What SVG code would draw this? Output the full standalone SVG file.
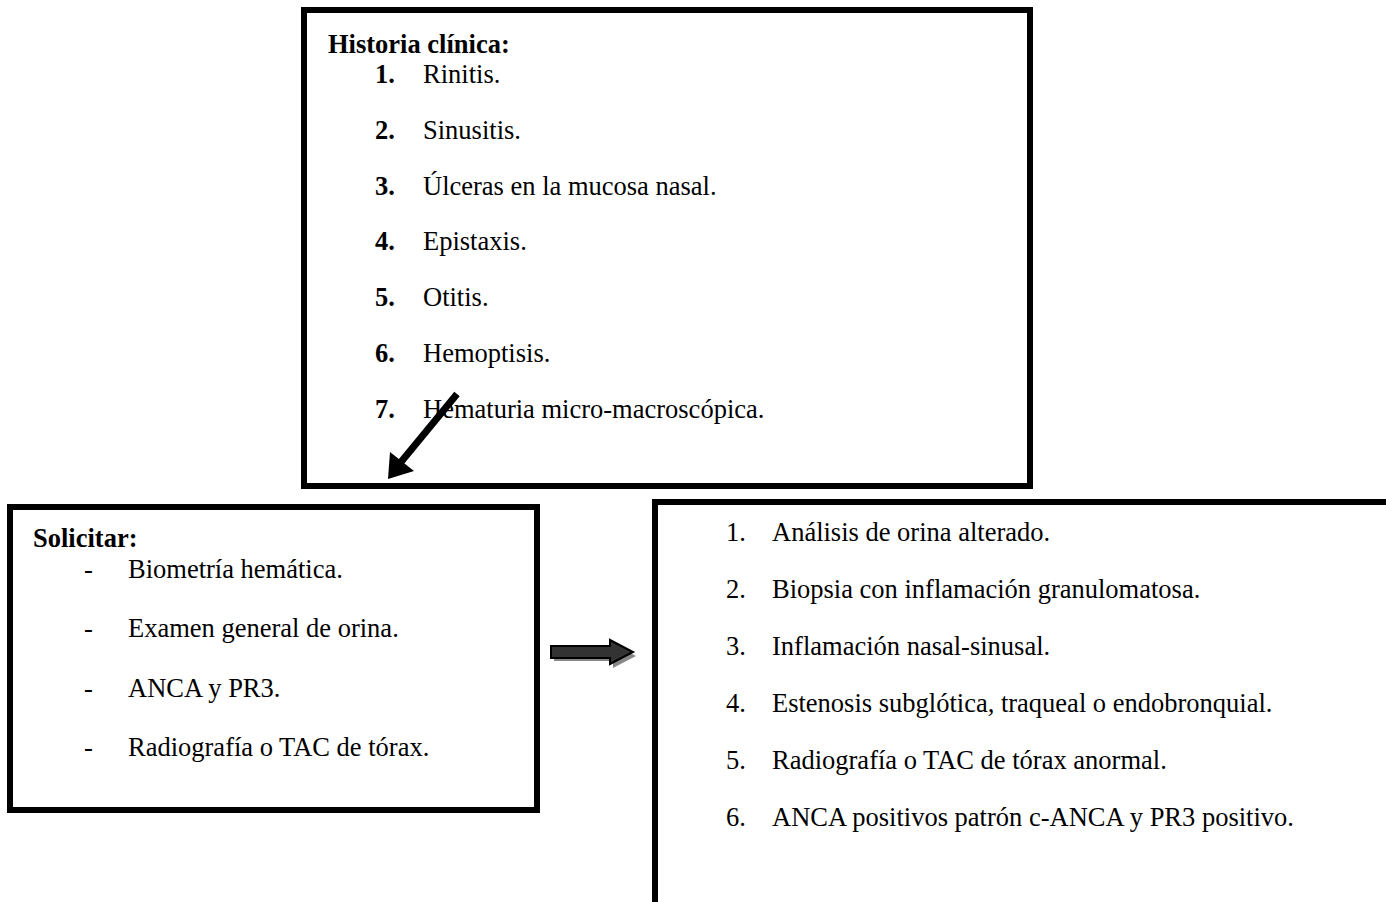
<svg xmlns="http://www.w3.org/2000/svg" width="1386" height="902" viewBox="0 0 1386 902">
<style>
.box{fill:#fff;stroke:#000;stroke-width:6}
.t{font-family:"Liberation Serif","Times New Roman",serif;font-size:26.5px;fill:#000}
.b{font-weight:bold}
</style>
<rect width="1386" height="902" fill="#fff"/>
<g id="historia">
<rect class="box" x="304" y="10" width="726" height="476"/>
<text class="t b" x="328" y="53">Historia clínica:</text>
<text class="t b" x="375" y="83">1.</text><text class="t" x="423" y="83">Rinitis.</text>
<text class="t b" x="375" y="139">2.</text><text class="t" x="423" y="139">Sinusitis.</text>
<text class="t b" x="375" y="195">3.</text><text class="t" x="423" y="195">Úlceras en la mucosa nasal.</text>
<text class="t b" x="375" y="250">4.</text><text class="t" x="423" y="250">Epistaxis.</text>
<text class="t b" x="375" y="306">5.</text><text class="t" x="423" y="306">Otitis.</text>
<text class="t b" x="375" y="362">6.</text><text class="t" x="423" y="362">Hemoptisis.</text>
<text class="t b" x="375" y="418">7.</text><text class="t" x="423" y="418">Hematuria micro-macroscópica.</text>
</g>
<g id="solicitar">
<rect class="box" x="10" y="507" width="527" height="303"/>
<text class="t b" x="33" y="547">Solicitar:</text>
<text class="t" x="84" y="578">-</text><text class="t" x="128" y="578">Biometría hemática.</text>
<text class="t" x="84" y="637">-</text><text class="t" x="128" y="637">Examen general de orina.</text>
<text class="t" x="84" y="697">-</text><text class="t" x="128" y="697">ANCA y PR3.</text>
<text class="t" x="84" y="756">-</text><text class="t" x="128" y="756">Radiografía o TAC de tórax.</text>
</g>
<g id="criterios">
<rect class="box" x="655" y="502" width="800" height="500"/>
<text class="t" x="726" y="541">1.</text><text class="t" x="772" y="541">Análisis de orina alterado.</text>
<text class="t" x="726" y="598">2.</text><text class="t" x="772" y="598">Biopsia con inflamación granulomatosa.</text>
<text class="t" x="726" y="655">3.</text><text class="t" x="772" y="655">Inflamación nasal-sinusal.</text>
<text class="t" x="726" y="712">4.</text><text class="t" x="772" y="712">Estenosis subglótica, traqueal o endobronquial.</text>
<text class="t" x="726" y="769">5.</text><text class="t" x="772" y="769">Radiografía o TAC de tórax anormal.</text>
<text class="t" x="726" y="826">6.</text><text class="t" x="772" y="826">ANCA positivos patrón c-ANCA y PR3 positivo.</text>
</g>
<g id="connectors">
<line x1="457" y1="394" x2="401" y2="462" stroke="#000" stroke-width="7"/>
<polygon points="388,479 390,452 414,471" fill="#000"/>
<polygon points="554,651 613,651 613,644 636,656 613,668 613,661 554,661" fill="#888"/>
<polygon points="551,646 610,646 610,640 633,652 610,664 610,658 551,658" fill="#333" stroke="#000" stroke-width="2"/>
</g>
</svg>
